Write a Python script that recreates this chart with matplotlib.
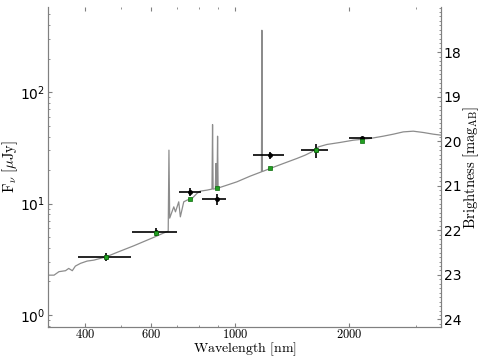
import numpy as np
import matplotlib
matplotlib.use('Agg')
import matplotlib.pyplot as plt
from matplotlib import ticker

plt.rcParams['mathtext.fontset'] = 'cm'

# model spectrum (nm, microJy)
spec_wave = [320, 332, 342, 356, 363, 371, 378, 390, 406, 423, 456, 487, 539, 609,
             658, 665, 668, 671, 688, 695, 709, 716, 731, 746, 769, 792, 808, 842,
             859, 868, 871, 874, 886, 889, 892, 895, 898, 901, 951, 1010, 1095,
             1173, 1176, 1179, 1237, 1341, 1455, 1530, 1594, 1659, 1746, 1892,
             2052, 2271, 2462, 2617, 2781, 2954, 3140, 3337, 3500]
spec_flux = [2.28, 2.28, 2.45, 2.50, 2.62, 2.50, 2.75, 2.91, 3.05, 3.11, 3.33, 3.65,
             4.18, 4.98, 5.59, 5.65, 30.2, 7.41, 9.36, 8.44, 10.38, 7.61, 10.38,
             10.75, 11.13, 12.35, 12.94, 13.22, 13.41, 13.5, 51.3, 13.5, 13.6, 22.9,
             13.6, 13.7, 40.3, 13.8, 14.66, 15.69, 17.65, 19.3, 360.0, 19.4, 20.69,
             22.94, 25.43, 27.23, 29.15, 32.31, 33.96, 35.40, 37.11, 38.44, 40.32,
             42.02, 44.06, 44.70, 43.51, 42.02, 41.16]

# observed photometry
phot_wave = [456, 618, 759, 895, 1232, 1636, 2159]
phot_lo = [384, 534, 711, 817, 1111, 1493, 2003]
phot_hi = [531, 702, 812, 947, 1346, 1763, 2300]
phot_flux = [3.33, 5.58, 12.8, 11.0, 27.2, 30.2, 38.9]
phot_err = [0.3, 0.5, 1.1, 1.2, 2.1, 4.4, 1.0]
# model photometry
model_flux = [3.3, 5.4, 11.0, 13.7, 20.7, 30.0, 36.6]

xticks = [400, 600, 1000, 2000]
mag_ticks = [18, 19, 20, 21, 22, 23, 24]


def to_mag(f):
    # microJy -> AB magnitude
    return 23.9 - 2.5 * np.log10(f)


fig, ax = plt.subplots(figsize=(4.8, 3.59), dpi=100)
fig.subplots_adjust(left=0.1, right=0.919, bottom=0.089, top=0.98)

ax.plot(spec_wave, spec_flux, color='0.55', lw=0.9, zorder=1)

xerr = [np.array(phot_wave) - np.array(phot_lo), np.array(phot_hi) - np.array(phot_wave)]
ax.errorbar(phot_wave, phot_flux, xerr=xerr, yerr=phot_err, fmt='o', color='k',
            ms=2.5, elinewidth=1.2, capsize=0, zorder=2)
ax.plot(phot_wave, model_flux, 's', color='#22a022', mec='#0a6a0a', mew=0.5,
        ms=3.5, zorder=3)

ax.set_xscale('log')
ax.set_yscale('log')
ax.set_xlim(320, 3500)
ylo, yhi = 0.78, 580
ax.set_ylim(ylo, yhi)

ax.xaxis.set_major_locator(ticker.FixedLocator(xticks))
ax.xaxis.set_major_formatter(ticker.FixedFormatter(['$%d$' % t for t in xticks]))
ax.xaxis.set_minor_locator(ticker.LogLocator(subs=np.arange(2, 10)))
ax.xaxis.set_minor_formatter(ticker.NullFormatter())

ax.set_xlabel(r'$\mathrm{Wavelength\ [nm]}$', fontsize=10, labelpad=-1)
ax.set_ylabel(r'$\mathrm{F}_\nu\ [\mu\mathrm{Jy}]$', fontsize=10.5, labelpad=0)

ax2 = ax.twinx()
ax2.set_ylim(to_mag(ylo), to_mag(yhi))
ax2.yaxis.set_major_locator(ticker.FixedLocator(mag_ticks))
ax2.yaxis.set_minor_locator(ticker.MultipleLocator(0.1))
ax2.set_ylabel(r'$\mathrm{Brightness\ [mag_{AB}]}$', fontsize=10.5, labelpad=0)

for a in (ax, ax2):
    a.tick_params(which='both', direction='in', color='0.5', top=True)
    a.tick_params(which='major', length=3, labelsize=10, pad=2)
    a.tick_params(which='minor', length=1.5, width=0.6)
    for s in a.spines.values():
        s.set_color('0.5')
    a.spines['top'].set_visible(False)
ax.tick_params(axis='x', which='major', labelsize=9, pad=1)

plt.savefig('out.png', dpi=100)
